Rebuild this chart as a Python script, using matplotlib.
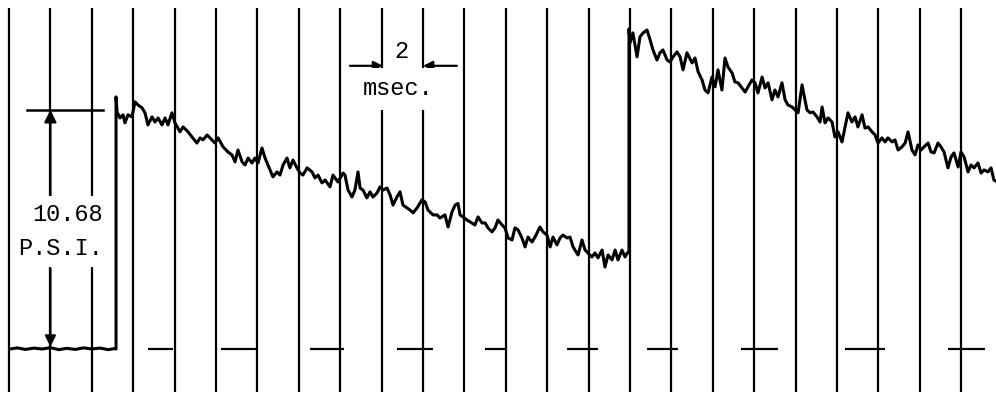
import numpy as np
import matplotlib.pyplot as plt

# oscillograph trace, time in msec and pressure in psi
# baseline before the first pressure jump
base_t = [0.05, 0.4, 0.8, 1.2, 1.6, 2.0, 2.4, 2.8, 3.2, 3.6, 4.0, 4.4, 4.8, 5.1, 5.17]
base_p = [0.0, 0.05, -0.02, 0.04, 0.0, 0.06, -0.03, 0.03, -0.02, 0.05, 0.0, 0.04, -0.03, 0.02, 0.0]

# first jump and decay
sweep1_t = [5.17, 5.22, 5.36, 5.51, 5.60, 5.75, 5.94, 6.09, 6.23, 6.43,
            6.57, 6.71, 6.91, 7.05, 7.20, 7.39, 7.54, 7.68, 7.87, 8.02,
            8.26, 8.41, 8.65, 8.84, 9.08, 9.23, 9.37, 9.57, 9.71, 9.95,
            10.10, 10.34, 10.58, 10.77, 10.92, 11.06, 11.26, 11.40, 11.55, 11.74,
            11.88, 12.03, 12.22, 12.37, 12.51, 12.75, 12.95, 13.09, 13.24, 13.43,
            13.57, 13.72, 13.91, 14.06, 14.20, 14.40, 14.64, 14.78, 14.93, 15.12,
            15.27, 15.51, 15.65, 15.89, 16.14, 16.23, 16.38, 16.57, 16.71, 16.86,
            16.96, 17.10, 17.29, 17.44, 17.58, 17.78, 17.92, 18.07, 18.26, 18.41,
            18.55, 18.74, 18.89, 19.03, 19.23, 19.37, 19.52, 19.71, 19.95, 20.10,
            20.24, 20.48, 20.68, 20.82, 21.06, 21.21, 21.40, 21.55, 21.69, 21.79,
            21.93, 22.13, 22.51, 22.66, 22.85, 23.00, 23.14, 23.33, 23.48, 23.62,
            23.82, 23.96, 24.11, 24.30, 24.44, 24.59, 24.78, 24.93, 25.07, 25.27,
            25.41, 25.65, 25.80, 25.99, 26.14, 26.28, 26.47, 26.62, 26.76, 26.96,
            27.10, 27.25, 27.34, 27.49, 27.68, 27.83, 27.97, 28.16, 28.31, 28.45,
            28.65, 28.79, 28.94, 29.13, 29.28, 29.42, 29.61, 29.76, 29.86, 29.95]
sweep1_p = [11.26, 10.59, 10.32, 10.46, 10.10, 10.46, 10.37, 11.04, 10.90, 10.77,
            10.55, 10.01, 10.37, 10.14, 10.32, 10.01, 10.32, 10.01, 10.55, 10.10,
            9.70, 9.92, 9.70, 9.47, 9.20, 9.43, 9.34, 9.56, 9.43, 9.20,
            9.43, 9.03, 8.80, 8.67, 8.36, 8.89, 8.36, 8.22, 8.53, 8.31,
            8.53, 8.31, 8.98, 8.53, 8.22, 7.69, 7.91, 7.77, 8.22, 8.53,
            8.09, 8.44, 8.09, 7.86, 7.77, 8.09, 7.91, 7.64, 7.77, 7.42,
            7.55, 7.24, 7.77, 7.46, 7.86, 7.77, 7.10, 6.79, 7.10, 7.91,
            7.19, 7.10, 6.75, 7.02, 6.79, 6.97, 7.24, 7.10, 7.19, 6.88,
            6.43, 6.79, 7.02, 6.43, 6.30, 6.21, 6.08, 6.30, 6.66, 6.57,
            6.21, 5.99, 5.99, 5.85, 5.99, 5.45, 6.12, 6.43, 6.50, 5.99,
            5.90, 5.76, 5.54, 5.90, 5.63, 5.63, 5.41, 5.23, 5.41, 5.76,
            5.54, 5.41, 4.96, 4.87, 5.41, 5.32, 4.96, 4.56, 5.00, 4.78,
            5.00, 5.45, 5.23, 5.09, 4.56, 5.00, 4.65, 4.96, 5.09, 4.96,
            5.00, 4.56, 4.42, 4.20, 4.87, 4.42, 4.29, 4.11, 4.29, 4.07,
            4.42, 3.66, 4.20, 3.98, 4.42, 3.98, 4.42, 4.11, 4.29, 4.29]

# second jump and decay
sweep2_t = [29.95, 30.00, 30.14, 30.34, 30.48, 30.63, 30.82, 30.97, 31.11, 31.30,
            31.45, 31.59, 31.79, 31.93, 32.08, 32.27, 32.42, 32.56, 32.75, 33.00,
            33.14, 33.29, 33.48, 33.62, 33.77, 33.96, 34.11, 34.25, 34.44, 34.59,
            34.73, 34.93, 35.07, 35.22, 35.41, 35.56, 35.70, 35.89, 36.04, 36.18,
            36.38, 36.52, 36.67, 36.86, 37.00, 37.15, 37.34, 37.49, 37.63, 37.83,
            37.97, 38.12, 38.31, 38.45, 38.55, 38.70, 38.84, 39.03, 39.18, 39.28,
            39.42, 39.57, 39.76, 39.90, 40.05, 40.24, 40.39, 40.53, 40.72, 40.87,
            41.01, 41.21, 41.35, 41.50, 41.69, 41.84, 41.98, 42.17, 42.32, 42.46,
            42.66, 42.80, 42.95, 43.14, 43.29, 43.43, 43.62, 43.77, 43.91, 44.06,
            44.20, 44.40, 44.54, 44.69, 44.88, 45.02, 45.17, 45.36, 45.51, 45.65,
            45.85, 45.99, 46.14, 46.33, 46.47, 46.62, 46.81, 46.96, 47.10, 47.29,
            47.44, 47.58, 47.68]
sweep2_p = [14.30, 13.67, 14.12, 13.05, 13.94, 14.12, 14.25, 13.81, 13.36, 12.91,
            13.23, 13.36, 12.91, 12.82, 13.05, 13.27, 13.05, 12.47, 13.23, 12.78,
            13.00, 12.38, 12.02, 11.57, 11.44, 12.15, 11.71, 12.47, 11.57, 13.00,
            12.60, 12.33, 11.93, 11.89, 11.66, 11.48, 11.71, 12.02, 11.89, 11.44,
            12.15, 11.66, 11.89, 11.13, 11.57, 11.26, 11.89, 11.13, 10.90, 10.81,
            10.68, 10.55, 11.80, 11.13, 10.68, 10.55, 10.59, 10.37, 10.14, 10.81,
            10.10, 10.32, 10.14, 9.47, 9.70, 9.25, 9.92, 10.55, 10.14, 10.37,
            9.92, 10.46, 9.87, 9.92, 9.70, 9.56, 9.20, 9.43, 9.25, 9.43,
            9.25, 9.34, 8.89, 9.03, 9.20, 9.70, 8.89, 8.67, 9.12, 8.89,
            9.03, 9.20, 8.80, 8.76, 9.20, 9.03, 8.80, 8.09, 8.58, 8.76,
            8.13, 8.80, 8.58, 7.91, 8.22, 8.09, 8.31, 7.86, 8.00, 7.91,
            8.09, 7.55, 7.50]

# short zero-line marks (start and end in msec)
mark_start = [6.71, 10.24, 14.54, 18.74, 23.00, 26.96, 30.82, 35.36, 40.39, 45.36]
mark_end = [7.92, 11.93, 16.18, 20.48, 24.01, 28.45, 32.32, 37.15, 42.32, 47.15]

# timing lines every 2 msec
grid_t = list(range(0, 48, 2))

trace_t = base_t + sweep1_t + sweep2_t
trace_p = base_p + sweep1_p + sweep2_p

fig = plt.figure(figsize=(9.96, 3.96), dpi=100)
ax = fig.add_axes([0, 0, 1, 1])

# timing lines
ax.vlines(grid_t, -1.92, 15.24, color='black', lw=1.6, zorder=1)

# zero-line marks
ax.hlines(np.zeros(len(mark_start)), mark_start, mark_end, color='black', lw=1.6, zorder=2)

# pressure trace
ax.plot(trace_t, trace_p, color='black', lw=2.2, zorder=2)

# 10.68 psi calibration
ax.plot([0.87, 4.54], [10.68, 10.68], color='black', lw=1.8, zorder=3)
ax.annotate('', xy=(2.0, 10.68), xytext=(2.0, 6.8),
            arrowprops=dict(arrowstyle='-|>', color='black', lw=1.6,
                            mutation_scale=18, shrinkA=0, shrinkB=0), zorder=3)
ax.annotate('', xy=(2.0, 0.1), xytext=(2.0, 3.6),
            arrowprops=dict(arrowstyle='-|>', color='black', lw=1.6,
                            mutation_scale=16, shrinkA=0, shrinkB=0), zorder=3)

# 2 msec marker
ax.annotate('', xy=(18.07, 12.65), xytext=(16.47, 12.65),
            arrowprops=dict(arrowstyle='-|>', color='black', lw=1.6,
                            mutation_scale=14, shrinkA=0, shrinkB=0), zorder=3)
ax.annotate('', xy=(20.0, 12.65), xytext=(21.64, 12.65),
            arrowprops=dict(arrowstyle='-|>', color='black', lw=1.6,
                            mutation_scale=14, shrinkA=0, shrinkB=0), zorder=3)

font = dict(family='Liberation Mono', size=17, color='black')
box = dict(boxstyle='square,pad=0.3', facecolor='white', edgecolor='none')
ax.text(4.54, 5.99, '10.68', ha='right', va='center', bbox=box, zorder=4, **font)
ax.text(4.54, 4.51, 'P.S.I.', ha='right', va='center', bbox=box, zorder=4, **font)
ax.text(18.96, 13.27, '2', ha='center', va='center', zorder=4, **font)
ax.text(18.8, 11.62, 'msec.', ha='center', va='center', zorder=4,
        bbox=dict(boxstyle='square,pad=0.4', facecolor='white', edgecolor='none'), **font)

ax.set_xlim(-0.435, 47.68)
ax.set_ylim(-2.10, 15.59)
ax.axis('off')

fig.savefig('out.png', dpi=100)
